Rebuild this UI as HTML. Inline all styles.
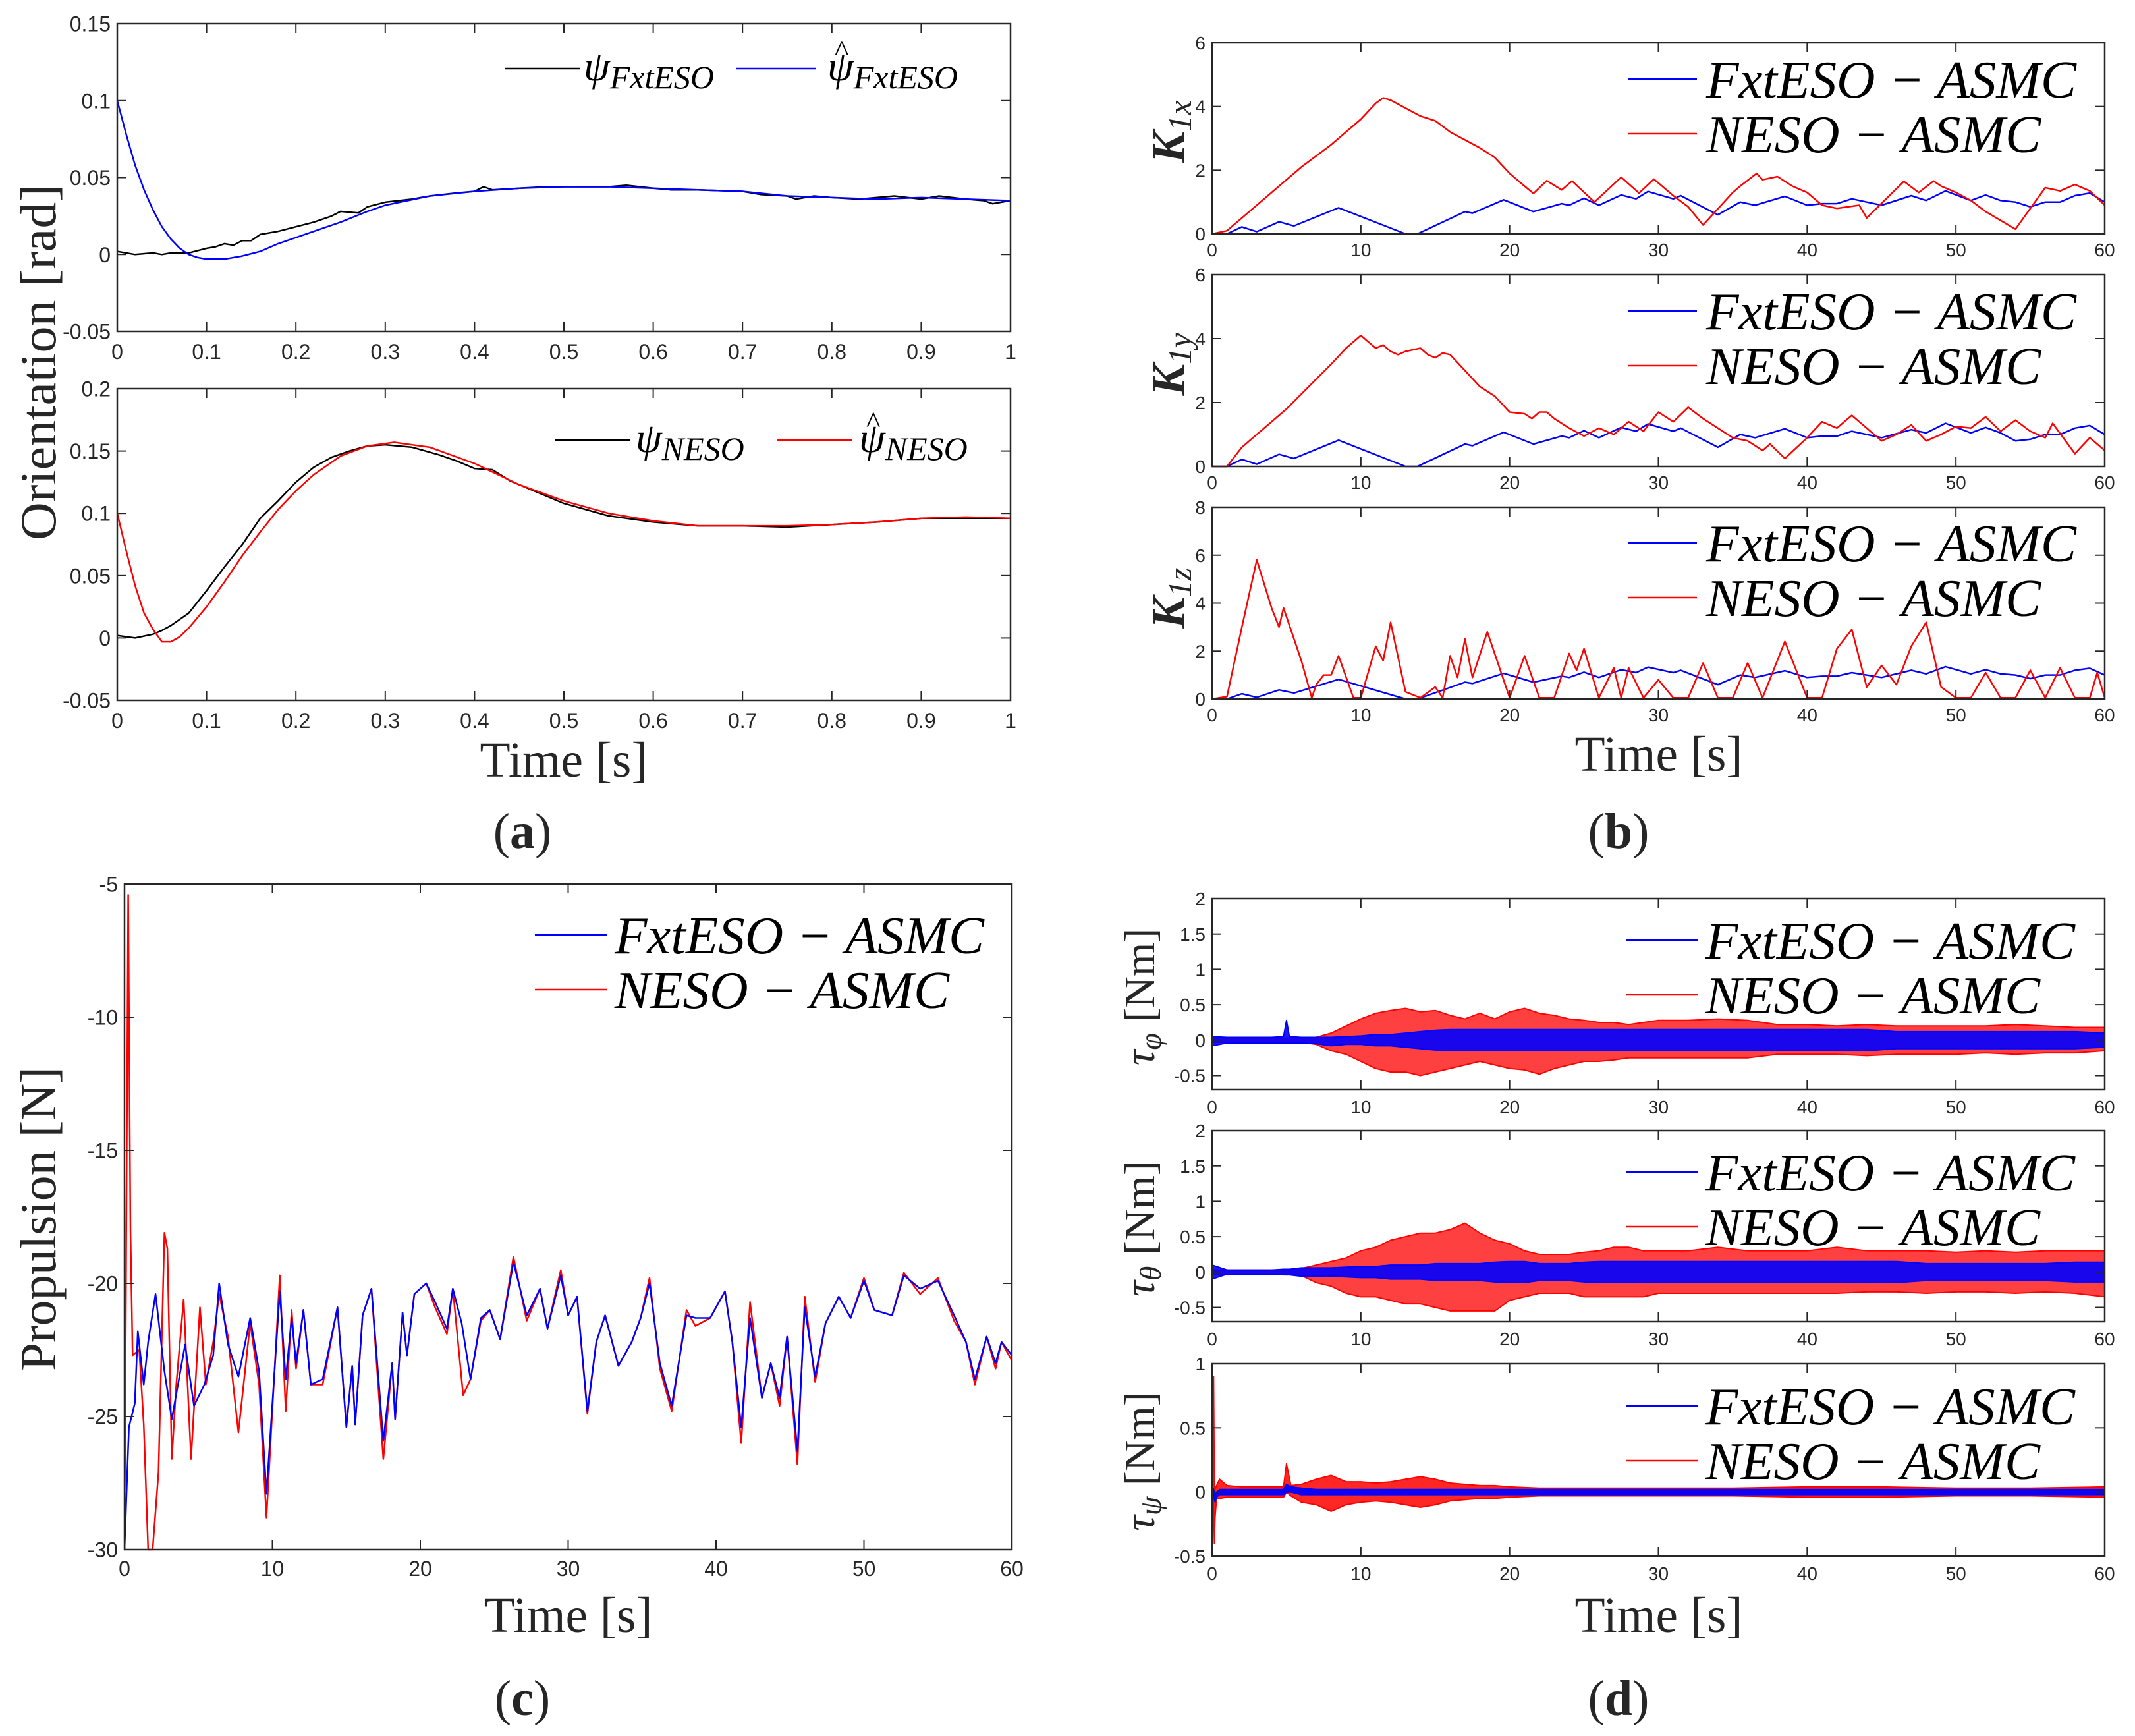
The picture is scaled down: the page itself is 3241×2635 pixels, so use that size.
<!DOCTYPE html>
<html><head><meta charset="utf-8"><style>
html,body{margin:0;padding:0;background:#fff;}
svg{display:block;}
.tk{font-family:"Liberation Sans",sans-serif;fill:#262626;}
.sf{font-family:"Liberation Serif",serif;fill:#262626;}
.lg{font-family:"Liberation Serif",serif;font-style:italic;fill:#000;}
</style></head><body>
<svg id="fig" xmlns="http://www.w3.org/2000/svg" width="3241" height="2635" viewBox="0 0 3241 2635">
<rect x="0" y="0" width="3241" height="2635" fill="#fff"/>

<!-- Panel a labels -->
<text class="sf" transform="translate(84,550) rotate(-90)" text-anchor="middle" font-size="77" textLength="540" lengthAdjust="spacingAndGlyphs">Orientation [rad]</text>
<text class="sf" x="856" y="1179" text-anchor="middle" font-size="76" textLength="255" lengthAdjust="spacingAndGlyphs">Time [s]</text>
<text class="sf" x="793" y="1287" text-anchor="middle" font-size="76" fill="#000">(<tspan font-weight="bold">a</tspan>)</text>

<!-- legend a top -->
<g>
<line x1="766" y1="104" x2="880" y2="104" stroke="#000" stroke-width="2.5"/>
<text class="lg" x="886" y="122" font-size="64">ψ<tspan font-size="50" dy="12">FxtESO</tspan></text>
<line x1="1118" y1="104" x2="1238" y2="104" stroke="#0000ff" stroke-width="2.5"/>
<text class="lg" x="1266" y="92" font-size="46" font-style="normal">^</text>
<text class="lg" x="1256" y="122" font-size="64">ψ<tspan font-size="50" dy="12">FxtESO</tspan></text>
</g>
<g>
<line x1="842" y1="668" x2="956" y2="668" stroke="#000" stroke-width="2.5"/>
<text class="lg" x="965" y="686" font-size="64">ψ<tspan font-size="50" dy="12">NESO</tspan></text>
<line x1="1180" y1="668" x2="1294" y2="668" stroke="#ff0000" stroke-width="2.5"/>
<text class="lg" x="1314" y="656" font-size="46" font-style="normal">^</text>
<text class="lg" x="1304" y="686" font-size="64">ψ<tspan font-size="50" dy="12">NESO</tspan></text>
</g>

<!-- Panel b labels -->
<text class="sf" transform="translate(1798,200) rotate(-90)" text-anchor="middle" font-size="72" font-style="italic" font-weight="bold">K<tspan font-size="50" dy="10" font-weight="normal">1x</tspan></text>
<text class="sf" transform="translate(1798,553) rotate(-90)" text-anchor="middle" font-size="72" font-style="italic" font-weight="bold">K<tspan font-size="50" dy="10" font-weight="normal">1y</tspan></text>
<text class="sf" transform="translate(1798,908) rotate(-90)" text-anchor="middle" font-size="72" font-style="italic" font-weight="bold">K<tspan font-size="50" dy="10" font-weight="normal">1z</tspan></text>
<text class="sf" x="2518" y="1170" text-anchor="middle" font-size="76" textLength="255" lengthAdjust="spacingAndGlyphs">Time [s]</text>
<text class="sf" x="2457" y="1287" text-anchor="middle" font-size="76" fill="#000">(<tspan font-weight="bold">b</tspan>)</text>

<!-- Panel c labels -->
<text class="sf" transform="translate(84,1850) rotate(-90)" text-anchor="middle" font-size="77" textLength="462" lengthAdjust="spacingAndGlyphs">Propulsion [N]</text>
<text class="sf" x="863" y="2477" text-anchor="middle" font-size="76" textLength="255" lengthAdjust="spacingAndGlyphs">Time [s]</text>
<text class="sf" x="793" y="2603" text-anchor="middle" font-size="76" fill="#000">(<tspan font-weight="bold">c</tspan>)</text>

<!-- Panel d labels -->
<text class="sf" transform="translate(1752,1513) rotate(-90)" text-anchor="middle" font-size="66"><tspan font-style="italic">τ</tspan><tspan font-style="italic" font-size="46" dy="10">φ</tspan><tspan dy="-10"> [Nm]</tspan></text>
<text class="sf" transform="translate(1752,1865) rotate(-90)" text-anchor="middle" font-size="66"><tspan font-style="italic">τ</tspan><tspan font-style="italic" font-size="46" dy="10">θ</tspan><tspan dy="-10"> [Nm]</tspan></text>
<text class="sf" transform="translate(1752,2218) rotate(-90)" text-anchor="middle" font-size="66"><tspan font-style="italic">τ</tspan><tspan font-style="italic" font-size="46" dy="10">ψ</tspan><tspan dy="-10"> [Nm]</tspan></text>
<text class="sf" x="2518" y="2477" text-anchor="middle" font-size="76" textLength="255" lengthAdjust="spacingAndGlyphs">Time [s]</text>
<text class="sf" x="2457" y="2603" text-anchor="middle" font-size="76" fill="#000">(<tspan font-weight="bold">d</tspan>)</text>
</svg>

<script>
// ---------- Panel a data ----------
const aTopT = [0,0.02,0.04,0.05,0.06,0.08,0.1,0.11,0.12,0.13,0.14,0.15,0.16,0.18,0.2,0.22,0.24,0.25,0.27,0.28,0.3,0.33,0.35,0.38,0.4,0.41,0.42,0.45,0.48,0.5,0.55,0.57,0.6,0.62,0.65,0.7,0.72,0.75,0.76,0.78,0.8,0.83,0.85,0.87,0.9,0.92,0.95,0.97,0.98,1];
const aTopPsi = [0.002,0.0,0.001,0.0,0.001,0.001,0.004,0.005,0.007,0.006,0.009,0.009,0.013,0.015,0.018,0.021,0.025,0.028,0.027,0.031,0.034,0.036,0.038,0.04,0.041,0.044,0.042,0.043,0.044,0.044,0.044,0.045,0.043,0.042,0.042,0.041,0.039,0.038,0.036,0.038,0.037,0.036,0.037,0.038,0.036,0.038,0.036,0.035,0.033,0.035];
const aTopHatT = [0,0.01,0.02,0.03,0.04,0.05,0.06,0.07,0.08,0.09,0.1,0.12,0.14,0.16,0.18,0.2,0.22,0.25,0.28,0.3,0.35,0.4,0.45,0.5,0.55,0.6,0.65,0.7,0.75,0.8,0.85,0.9,0.95,1];
const aTopHat = [0.1,0.078,0.058,0.042,0.029,0.018,0.01,0.004,0.0,-0.002,-0.003,-0.003,-0.001,0.002,0.007,0.011,0.015,0.021,0.028,0.032,0.038,0.041,0.043,0.044,0.044,0.043,0.042,0.041,0.038,0.037,0.036,0.037,0.036,0.035];
const aBotT = [0,0.02,0.04,0.05,0.06,0.08,0.1,0.12,0.14,0.16,0.18,0.2,0.22,0.24,0.26,0.28,0.3,0.33,0.36,0.38,0.4,0.42,0.44,0.46,0.5,0.55,0.6,0.65,0.7,0.75,0.8,0.85,0.9,0.95,1];
const aBotPsi = [0.002,0.0,0.003,0.006,0.01,0.02,0.038,0.057,0.075,0.096,0.11,0.125,0.137,0.145,0.15,0.154,0.155,0.153,0.147,0.142,0.136,0.135,0.126,0.12,0.108,0.098,0.093,0.09,0.09,0.089,0.091,0.093,0.096,0.096,0.096];
const aBotHatT = [0,0.01,0.02,0.03,0.04,0.05,0.06,0.07,0.08,0.1,0.12,0.14,0.16,0.18,0.2,0.22,0.25,0.28,0.31,0.35,0.4,0.45,0.5,0.55,0.6,0.65,0.7,0.75,0.8,0.85,0.9,0.95,1];
const aBotHat = [0.1,0.07,0.042,0.02,0.007,-0.003,-0.003,0.001,0.008,0.025,0.045,0.066,0.085,0.103,0.118,0.131,0.146,0.154,0.157,0.153,0.14,0.123,0.11,0.1,0.094,0.09,0.09,0.09,0.091,0.093,0.096,0.097,0.096];
const aXTicks = [0,0.1,0.2,0.3,0.4,0.5,0.6,0.7,0.8,0.9,1];
const aXLabels = ["0","0.1","0.2","0.3","0.4","0.5","0.6","0.7","0.8","0.9","1"];
const aTopYTicks = [-0.05,0,0.05,0.1,0.15];
const aTopYLabels = ["-0.05","0","0.05","0.1","0.15"];
const aBotYTicks = [-0.05,0,0.05,0.1,0.15,0.2];
const aBotYLabels = ["-0.05","0","0.05","0.1","0.15","0.2"];

// ---------- Panel b data ----------
const bBlueT = [0,1,2,3,4.5,5.5,8.5,13,13.8,17,17.5,19.6,21.6,23.5,24,25,26,27.5,28.5,29.3,31,31.5,34,35.5,36.5,38.5,40,41,42,43,44,45,47,48,49.3,51,52,53,54,55,56,57,58,59,60];
const bK1xBlue = [0,0,0.22,0.07,0.38,0.25,0.82,0,0,0.7,0.65,1.07,0.7,0.95,0.9,1.12,0.9,1.22,1.1,1.33,1.1,1.2,0.6,1.0,0.9,1.18,0.9,0.95,0.95,1.1,1.0,0.9,1.2,1.05,1.35,1.05,1.22,1.05,1.0,0.85,1.0,1.0,1.2,1.28,1.0];
const bK1xRedT = [0,1,2,4,6,8,10,11,11.5,12,13,14,15,16,17,18,19,20,21,21.6,22.5,23.5,24.2,25.7,27.5,28.7,29.7,31,32,33,35,35.5,36.6,37,38,39,40,41,42,43.5,44,46.5,47.5,48.5,49,50,51,52,54,56,57,58,59,60];
const bK1xRed = [0,0.1,0.5,1.3,2.1,2.8,3.6,4.1,4.27,4.2,3.95,3.7,3.55,3.2,2.95,2.7,2.4,1.9,1.5,1.27,1.67,1.38,1.66,1.0,1.78,1.28,1.72,1.2,0.85,0.28,1.3,1.5,1.9,1.7,1.8,1.5,1.3,0.9,0.8,0.9,0.5,1.65,1.3,1.66,1.5,1.3,1.05,0.7,0.15,1.45,1.35,1.55,1.35,0.9];
const bK1yBlue = [0,0,0.22,0.07,0.38,0.25,0.82,0,0,0.7,0.65,1.07,0.7,0.95,0.9,1.12,0.9,1.22,1.1,1.33,1.1,1.2,0.6,1.0,0.9,1.18,0.9,0.95,0.95,1.1,1.0,0.9,1.15,1.05,1.35,1.05,1.22,1.05,0.8,0.85,1.0,1.0,1.2,1.28,1.0];
const bK1yRedT = [0,1,2,5,8,9,10,10.5,11,11.5,12,12.5,13,14,14.5,15,15.5,16,17,18,19,20,21,21.5,22,22.5,23,24,25,26,27,28,29,30,31,32,33,34,35,36,37,37.5,38.5,40,41,42,43,44,45,46,47,48,49,50,51,52,53,54,55,56,56.5,58,59,60];
const bK1yRed = [0,0,0.6,1.8,3.2,3.7,4.1,3.9,3.7,3.8,3.6,3.5,3.6,3.7,3.5,3.4,3.55,3.5,3.0,2.5,2.2,1.7,1.65,1.5,1.7,1.7,1.5,1.2,0.95,1.2,1.0,1.4,1.1,1.7,1.4,1.85,1.5,1.2,0.9,0.8,0.5,0.7,0.25,0.9,1.4,1.2,1.6,1.2,0.8,1.0,1.3,0.8,1.0,1.25,1.2,1.55,1.1,1.45,1.1,0.9,1.35,0.4,0.9,0.5];
const bK1zBlue = bK1xBlue.slice();
const bK1zRedT = [0,1,2,3,4,4.5,4.8,6,6.7,7,7.5,8,8.5,9.5,10,11,11.5,12,13,14,15,15.5,16,16.5,17,17.5,18.5,20,21,22,23,24,24.5,25,26,27,27.5,28,29,30,31,32,33,34,35,36,37,38.5,40,41,42,43,44,45,46,47,48,49,50,51,52,53,54,55,56,57,58,59,59.5,60];
const bK1zRed = [0,0.1,3.0,5.8,3.8,3.0,3.8,1.6,0.05,0.6,1.0,1.0,1.8,0.05,0.05,2.2,1.6,3.2,0.3,0.05,0.5,0.05,1.8,0.9,2.5,0.9,2.8,0.05,1.8,0.05,0.05,1.9,1.2,2.1,0.05,1.3,0.05,1.3,0.05,0.8,0.05,0.05,1.5,0.05,0.05,1.5,0.05,2.4,0.05,0.05,2.1,2.9,0.5,1.4,0.6,2.2,3.2,0.5,0.05,0.05,1.1,0.05,0.05,1.2,0.05,1.3,0.05,0.05,1.1,0.05];
const bXTicks = [0,10,20,30,40,50,60];
const bXLabels = ["0","10","20","30","40","50","60"];
const bK1xyYTicks = [0,2,4,6];
const bK1xyYLabels = ["0","2","4","6"];
const bK1zYTicks = [0,2,4,6,8];
const bK1zYLabels = ["0","2","4","6","8"];

// ---------- Panel c data ----------
const cBlueT = [0,0.3,0.7,0.9,1.3,1.6,2.1,2.7,3.2,4.1,4.7,5.4,6.0,6.4,7.0,7.7,8.5,9.1,9.6,10.5,10.9,11.3,11.6,12.1,12.6,13.4,14.4,15.0,15.4,15.6,16.1,16.7,17.5,18.1,18.3,18.8,19.1,19.6,20.4,21.0,21.8,22.2,22.8,23.4,24.1,24.7,25.4,26.3,27.2,28.1,28.6,29.5,30.0,30.6,31.3,31.9,32.5,33.4,34.3,34.9,35.5,36.2,37.0,38.0,38.6,39.6,40.6,41.1,41.7,42.3,43.1,43.7,44.3,44.8,45.5,46.0,46.7,47.4,48.3,49.1,50.0,50.7,51.9,52.7,53.8,55.0,56.1,56.9,57.5,58.3,58.9,59.3,60];
const cBlue = [-30,-25.4,-24.5,-21.8,-23.8,-22.2,-20.4,-23.3,-25.1,-22.3,-24.6,-23.8,-22.7,-20.0,-22.3,-23.5,-21.3,-23.3,-27.9,-20.3,-23.6,-21.3,-23.0,-21.0,-23.8,-23.6,-20.9,-25.4,-23.1,-25.3,-21.2,-20.2,-25.9,-23.0,-25.1,-21.1,-22.7,-20.4,-20.0,-20.7,-21.7,-20.2,-21.5,-23.6,-21.3,-21.0,-22.1,-19.2,-21.2,-20.2,-21.7,-19.7,-21.2,-20.5,-24.8,-22.2,-21.2,-23.1,-22.2,-21.3,-20.0,-23.0,-24.6,-21.2,-21.3,-21.3,-20.3,-22.2,-25.4,-21.3,-24.3,-23.0,-24.3,-22.0,-26.3,-20.9,-23.5,-21.5,-20.5,-21.3,-19.9,-21.0,-21.2,-19.7,-20.2,-19.9,-21.2,-22.2,-23.6,-22.0,-23.0,-22.2,-22.7];
const cRedT = [0,0.25,0.4,0.55,1.0,1.3,1.6,1.9,2.3,2.7,2.9,3.2,3.5,4.0,4.5,5.1,5.5,6.0,6.4,7.0,7.7,8.5,9.1,9.6,10.5,10.9,11.3,11.6,12.1,12.6,13.4,14.4,15.0,15.4,15.6,16.1,16.7,17.5,18.1,18.3,18.8,19.1,19.6,20.4,21.0,21.8,22.2,22.9,23.4,24.1,24.7,25.4,26.3,27.2,28.1,28.6,29.5,30.0,30.6,31.3,31.9,32.5,33.4,34.3,34.9,35.5,36.2,37.0,38.0,38.6,39.6,40.6,41.1,41.7,42.3,43.1,43.7,44.3,44.8,45.5,46.0,46.7,47.4,48.3,49.1,50.0,50.7,51.9,52.7,53.8,55.0,56.1,56.9,57.5,58.3,58.9,59.3,60];
const cRed = [-30,-5.4,-18,-22.7,-22.5,-25.3,-30,-30,-27.1,-18.1,-18.7,-26.6,-23.8,-20.6,-26.6,-20.9,-23.8,-22.2,-20.4,-22.0,-25.6,-21.5,-23.8,-28.8,-19.7,-24.8,-21.0,-23.2,-21.0,-23.8,-23.8,-20.9,-25.4,-23.1,-25.3,-21.2,-20.2,-26.6,-23.0,-25.1,-21.1,-22.7,-20.4,-20.0,-20.9,-21.9,-20.2,-24.2,-23.6,-21.4,-21.0,-22.1,-19.0,-21.4,-20.2,-21.7,-19.5,-21.2,-20.5,-24.9,-22.2,-21.2,-23.1,-22.2,-21.3,-19.8,-23.2,-24.8,-21.0,-21.6,-21.3,-20.3,-22.2,-26.0,-20.7,-24.3,-23.0,-24.6,-22.0,-26.8,-20.5,-23.7,-21.5,-20.5,-21.3,-19.8,-21.0,-21.2,-19.6,-20.4,-19.8,-21.4,-22.2,-23.8,-22.0,-23.2,-22.2,-22.9];
const cXTicks = [0,10,20,30,40,50,60];
const cXLabels = ["0","10","20","30","40","50","60"];
const cYTicks = [-30,-25,-20,-15,-10,-5];
const cYLabels = ["-30","-25","-20","-15","-10","-5"];

// ---------- Panel d data (envelopes of noisy torques) ----------
const dT = [0,1,2,3,4,4.8,5,5.2,6,7,8,9,10,11,12,13,14,15,16,17,18,19,20,21,22,23,24,25,26,27,28,29,30,32,34,36,38,40,42,44,46,48,50,52,54,56,58,60];
const dPhiRedHi = [0.03,0.03,0.03,0.03,0.03,0.03,0.03,0.03,0.03,0.04,0.1,0.2,0.3,0.38,0.42,0.45,0.4,0.42,0.35,0.3,0.38,0.3,0.4,0.45,0.38,0.35,0.3,0.28,0.25,0.25,0.22,0.25,0.28,0.28,0.3,0.28,0.22,0.22,0.2,0.22,0.2,0.2,0.2,0.2,0.22,0.2,0.18,0.18];
const dPhiRedLo = [-0.03,-0.03,-0.03,-0.03,-0.03,-0.03,-0.03,-0.03,-0.03,-0.06,-0.15,-0.2,-0.3,-0.4,-0.45,-0.45,-0.5,-0.45,-0.4,-0.35,-0.3,-0.35,-0.4,-0.42,-0.48,-0.4,-0.35,-0.3,-0.3,-0.28,-0.25,-0.25,-0.25,-0.25,-0.25,-0.25,-0.2,-0.2,-0.2,-0.22,-0.2,-0.2,-0.2,-0.18,-0.2,-0.18,-0.18,-0.15];
const dPhiBlueHi = [0.05,0.04,0.04,0.04,0.04,0.05,0.28,0.05,0.04,0.04,0.04,0.05,0.06,0.08,0.08,0.1,0.12,0.14,0.15,0.15,0.15,0.15,0.15,0.15,0.15,0.15,0.15,0.15,0.15,0.15,0.15,0.15,0.15,0.15,0.15,0.15,0.15,0.15,0.15,0.15,0.12,0.12,0.12,0.12,0.12,0.12,0.12,0.1];
const dPhiBlueLo = [-0.08,-0.04,-0.04,-0.04,-0.04,-0.04,-0.04,-0.04,-0.04,-0.05,-0.08,-0.06,-0.06,-0.08,-0.08,-0.1,-0.12,-0.14,-0.15,-0.15,-0.15,-0.15,-0.15,-0.15,-0.15,-0.15,-0.15,-0.15,-0.15,-0.15,-0.15,-0.15,-0.15,-0.15,-0.15,-0.15,-0.15,-0.15,-0.15,-0.15,-0.12,-0.12,-0.12,-0.12,-0.12,-0.12,-0.12,-0.1];
const dThetaRedHi = [0.03,0.03,0.03,0.03,0.03,0.03,0.03,0.03,0.05,0.1,0.15,0.2,0.3,0.35,0.45,0.5,0.55,0.55,0.6,0.69,0.55,0.45,0.4,0.3,0.25,0.25,0.25,0.28,0.3,0.35,0.35,0.3,0.3,0.3,0.35,0.3,0.3,0.3,0.35,0.3,0.3,0.3,0.28,0.3,0.28,0.3,0.3,0.3];
const dThetaRedLo = [-0.03,-0.03,-0.03,-0.03,-0.03,-0.03,-0.03,-0.03,-0.05,-0.15,-0.2,-0.3,-0.35,-0.35,-0.4,-0.45,-0.45,-0.5,-0.55,-0.55,-0.55,-0.55,-0.4,-0.35,-0.3,-0.3,-0.3,-0.35,-0.35,-0.35,-0.35,-0.35,-0.3,-0.3,-0.3,-0.3,-0.3,-0.3,-0.3,-0.28,-0.28,-0.3,-0.28,-0.28,-0.3,-0.28,-0.3,-0.35];
const dThetaBlueHi = [0.1,0.03,0.03,0.03,0.03,0.04,0.04,0.04,0.06,0.06,0.06,0.07,0.08,0.08,0.1,0.1,0.1,0.12,0.12,0.12,0.12,0.14,0.15,0.15,0.12,0.12,0.12,0.14,0.15,0.15,0.15,0.15,0.15,0.15,0.15,0.15,0.15,0.15,0.15,0.15,0.15,0.12,0.12,0.12,0.12,0.12,0.14,0.14];
const dThetaBlueLo = [-0.1,-0.03,-0.03,-0.03,-0.03,-0.04,-0.04,-0.04,-0.06,-0.06,-0.06,-0.07,-0.08,-0.08,-0.1,-0.1,-0.1,-0.12,-0.12,-0.12,-0.12,-0.14,-0.15,-0.15,-0.12,-0.12,-0.12,-0.14,-0.15,-0.15,-0.15,-0.15,-0.15,-0.15,-0.15,-0.15,-0.15,-0.15,-0.15,-0.15,-0.15,-0.12,-0.12,-0.12,-0.12,-0.12,-0.14,-0.14];
const dPsiT = [0,0.1,0.15,0.2,0.3,0.5,1,2,3,4,4.8,5,5.3,6,7,8,9,10,11,12,13,14,15,16,17,18,19,20,22,24,26,28,30,35,40,45,50,55,60];
const dPsiRedHi = [0.0,0.9,0.05,0.02,0.05,0.1,0.05,0.04,0.04,0.04,0.04,0.22,0.05,0.06,0.1,0.13,0.08,0.08,0.07,0.08,0.1,0.12,0.1,0.07,0.06,0.05,0.05,0.04,0.03,0.03,0.03,0.03,0.03,0.03,0.04,0.04,0.03,0.03,0.04];
const dPsiRedLo = [0.0,-0.1,-0.4,-0.2,-0.05,-0.05,-0.04,-0.04,-0.04,-0.04,-0.04,0.0,-0.03,-0.08,-0.1,-0.15,-0.1,-0.08,-0.07,-0.08,-0.1,-0.12,-0.1,-0.07,-0.06,-0.05,-0.05,-0.04,-0.03,-0.03,-0.03,-0.03,-0.03,-0.03,-0.04,-0.04,-0.03,-0.03,-0.04];
const dPsiBlueHi = [0.05,0.02,0.0,-0.03,0.0,0.02,0.02,0.02,0.02,0.02,0.02,0.06,0.04,0.03,0.02,0.02,0.02,0.02,0.02,0.02,0.02,0.02,0.02,0.02,0.02,0.02,0.02,0.02,0.02,0.02,0.02,0.02,0.02,0.02,0.02,0.02,0.02,0.02,0.02];
const dPsiBlueLo = [-0.02,-0.02,-0.06,-0.08,-0.04,-0.02,-0.02,-0.02,-0.02,-0.02,-0.02,0.0,0.0,-0.02,-0.02,-0.02,-0.02,-0.02,-0.02,-0.02,-0.02,-0.02,-0.02,-0.02,-0.02,-0.02,-0.02,-0.02,-0.02,-0.02,-0.02,-0.02,-0.02,-0.02,-0.02,-0.02,-0.02,-0.02,-0.02];
const dXTicks = [0,10,20,30,40,50,60];
const dXLabels = ["0","10","20","30","40","50","60"];
const dYTicks12 = [-0.5,0,0.5,1,1.5,2];
const dYLabels12 = ["-0.5","0","0.5","1","1.5","2"];
const dYTicks3 = [-0.5,0,0.5,1];
const dYLabels3 = ["-0.5","0","0.5","1"];

// ---------- drawing ----------
const NS = "http://www.w3.org/2000/svg";
const svg = document.getElementById("fig");
function el(tag, attrs, parent){
  const e = document.createElementNS(NS, tag);
  for (const k in attrs) e.setAttribute(k, attrs[k]);
  (parent||svg).appendChild(e);
  return e;
}
function makeAxes(name, box, xr, yr, xt, xl, yt, yl, fs, xOff){
  const g = el("g", {});
  
  
  const sx = v => box.x0 + (v - xr[0]) / (xr[1] - xr[0]) * (box.x1 - box.x0);
  const sy = v => box.y1 - (v - yr[0]) / (yr[1] - yr[0]) * (box.y1 - box.y0);
  const plot = el("g", {}, g);
  
  
  const clipId = name + "-clip";
  const cp = el("clipPath", {id: clipId}, g);
  el("rect", {x: box.x0, y: box.y0 - 2, width: box.x1 - box.x0, height: box.y1 - box.y0 + 4}, cp);
  plot.setAttribute("clip-path", "url(#" + clipId + ")");
  const frame = el("g", {}, g);
  const tl = 14;
  xt.forEach((v, i) => {
    const x = sx(v);
    el("line", {x1: x, y1: box.y1, x2: x, y2: box.y1 - tl, stroke: "#262626", "stroke-width": 2}, frame);
    el("line", {x1: x, y1: box.y0, x2: x, y2: box.y0 + tl, stroke: "#262626", "stroke-width": 2}, frame);
    const t = el("text", {x: x, y: box.y1 + xOff, "text-anchor": "middle", "font-size": fs, class: "tk"}, frame);
    
    
    t.textContent = xl[i];
  });
  yt.forEach((v, i) => {
    const y = sy(v);
    el("line", {x1: box.x0, y1: y, x2: box.x0 + tl, y2: y, stroke: "#262626", "stroke-width": 2}, frame);
    el("line", {x1: box.x1, y1: y, x2: box.x1 - tl, y2: y, stroke: "#262626", "stroke-width": 2}, frame);
    const t = el("text", {x: box.x0 - 10, y: y + fs * 0.36, "text-anchor": "end", "font-size": fs, class: "tk"}, frame);
    
    
    t.textContent = yl[i];
  });
  const r = el("rect", {x: box.x0, y: box.y0, width: box.x1 - box.x0, height: box.y1 - box.y0, fill: "none", stroke: "#262626", "stroke-width": 2.5}, frame);
  
  
  return {sx, sy, plot, g};
}
function line(ax, xs, ys, color, w, name){
  const d = xs.map((x, i) => (i ? "L" : "M") + ax.sx(x).toFixed(1) + "," + ax.sy(ys[i]).toFixed(1)).join("");
  const p = el("path", {d: d, fill: "none", stroke: color, "stroke-width": w, "stroke-linejoin": "round"}, ax.plot);
  
  
  return p;
}
function band(ax, xs, hi, lo, color, name, op){
  let d = xs.map((x, i) => (i ? "L" : "M") + ax.sx(x).toFixed(1) + "," + ax.sy(hi[i]).toFixed(1)).join("");
  for (let i = xs.length - 1; i >= 0; i--) d += "L" + ax.sx(xs[i]).toFixed(1) + "," + ax.sy(lo[i]).toFixed(1);
  d += "Z";
  const p = el("path", {d: d, fill: color, "fill-opacity": op, stroke: color, "stroke-width": 2, "stroke-linejoin": "round"}, ax.plot);
  
  
}
function legend2(name, lx0, lx1, tx, y1, y2, w1, w2){
  const g = el("g", {});
  
  
  el("line", {x1: lx0, y1: y1, x2: lx1, y2: y1, stroke: "#0000ff", "stroke-width": 2.5}, g);
  const t1 = el("text", {x: tx, y: y1 + 28, "font-size": 80, class: "lg", textLength: w1, lengthAdjust: "spacingAndGlyphs"}, g);
  
  
  t1.textContent = "FxtESO − ASMC";
  el("line", {x1: lx0, y1: y2, x2: lx1, y2: y2, stroke: "#ff0000", "stroke-width": 2.5}, g);
  const t2 = el("text", {x: tx, y: y2 + 28, "font-size": 80, class: "lg", textLength: w2, lengthAdjust: "spacingAndGlyphs"}, g);
  
  
  t2.textContent = "NESO − ASMC";
}

// Panel a
const a1 = makeAxes("axes-a-top", {x0:178,x1:1534,y0:36,y1:503}, [0,1], [-0.05,0.15], aXTicks, aXLabels, aTopYTicks, aTopYLabels, 32, 42);
line(a1, aTopT, aTopPsi, "#000000", 2.5, "psi-fxteso-line");
line(a1, aTopHatT, aTopHat, "#0000ff", 2.5, "psi-hat-fxteso-line");
const a2 = makeAxes("axes-a-bottom", {x0:178,x1:1534,y0:590,y1:1063}, [0,1], [-0.05,0.2], aXTicks, aXLabels, aBotYTicks, aBotYLabels, 32, 42);
line(a2, aBotT, aBotPsi, "#000000", 2.5, "psi-neso-line");
line(a2, aBotHatT, aBotHat, "#ff0000", 2.5, "psi-hat-neso-line");

// Panel b
const b1 = makeAxes("axes-b-k1x", {x0:1840,x1:3195,y0:65,y1:355}, [0,60], [0,6], bXTicks, bXLabels, bK1xyYTicks, bK1xyYLabels, 28, 34);
line(b1, bBlueT, bK1xBlue, "#0000ff", 2.5, "k1x-fxteso-line");
line(b1, bK1xRedT, bK1xRed, "#ff0000", 2.5, "k1x-neso-line");
legend2("legend-b-k1x", 2472, 2576, 2590, 120, 203, 562, 508);
const b2 = makeAxes("axes-b-k1y", {x0:1840,x1:3195,y0:417,y1:708}, [0,60], [0,6], bXTicks, bXLabels, bK1xyYTicks, bK1xyYLabels, 28, 34);
line(b2, bBlueT, bK1yBlue, "#0000ff", 2.5, "k1y-fxteso-line");
line(b2, bK1yRedT, bK1yRed, "#ff0000", 2.5, "k1y-neso-line");
legend2("legend-b-k1y", 2472, 2576, 2590, 472, 555, 562, 508);
const b3 = makeAxes("axes-b-k1z", {x0:1840,x1:3195,y0:770,y1:1061}, [0,60], [0,8], bXTicks, bXLabels, bK1zYTicks, bK1zYLabels, 28, 34);
line(b3, bBlueT, bK1zBlue, "#0000ff", 2.5, "k1z-fxteso-line");
line(b3, bK1zRedT, bK1zRed, "#ff0000", 2.5, "k1z-neso-line");
legend2("legend-b-k1z", 2472, 2576, 2590, 824, 907, 562, 508);

// Panel c
const c1 = makeAxes("axes-c-propulsion", {x0:189,x1:1536,y0:1342,y1:2352}, [0,60], [-30,-5], cXTicks, cXLabels, cYTicks, cYLabels, 32, 40);
line(c1, cRedT, cRed, "#ff0000", 2.5, "propulsion-neso-line");
line(c1, cBlueT, cBlue, "#0000ff", 2.5, "propulsion-fxteso-line");
legend2("legend-c", 812, 922, 933, 1419, 1502, 561, 508);

// Panel d
const d1 = makeAxes("axes-d-tau-phi", {x0:1840,x1:3195,y0:1364,y1:1654}, [0,60], [-0.7,2], dXTicks, dXLabels, dYTicks12, dYLabels12, 28, 36);
band(d1, dT, dPhiRedHi, dPhiRedLo, "#ff0000", "tau-phi-neso-band", 0.75);
band(d1, dT, dPhiBlueHi, dPhiBlueLo, "#0000ff", "tau-phi-fxteso-band", 0.9);
legend2("legend-d-tau-phi", 2469, 2578, 2589, 1427, 1510, 561, 508);
const d2 = makeAxes("axes-d-tau-theta", {x0:1840,x1:3195,y0:1716,y1:2006}, [0,60], [-0.7,2], dXTicks, dXLabels, dYTicks12, dYLabels12, 28, 36);
band(d2, dT, dThetaRedHi, dThetaRedLo, "#ff0000", "tau-theta-neso-band", 0.75);
band(d2, dT, dThetaBlueHi, dThetaBlueLo, "#0000ff", "tau-theta-fxteso-band", 0.9);
legend2("legend-d-tau-theta", 2469, 2578, 2589, 1779, 1862, 561, 508);
const d3 = makeAxes("axes-d-tau-psi", {x0:1840,x1:3195,y0:2070,y1:2362}, [0,60], [-0.5,1], dXTicks, dXLabels, dYTicks3, dYLabels3, 28, 36);
band(d3, dPsiT, dPsiRedHi, dPsiRedLo, "#ff0000", "tau-psi-neso-band", 0.85);
band(d3, dPsiT, dPsiBlueHi, dPsiBlueLo, "#0000ff", "tau-psi-fxteso-band", 0.95);
legend2("legend-d-tau-psi", 2469, 2578, 2589, 2134, 2217, 561, 508);
</script>
</body></html>
